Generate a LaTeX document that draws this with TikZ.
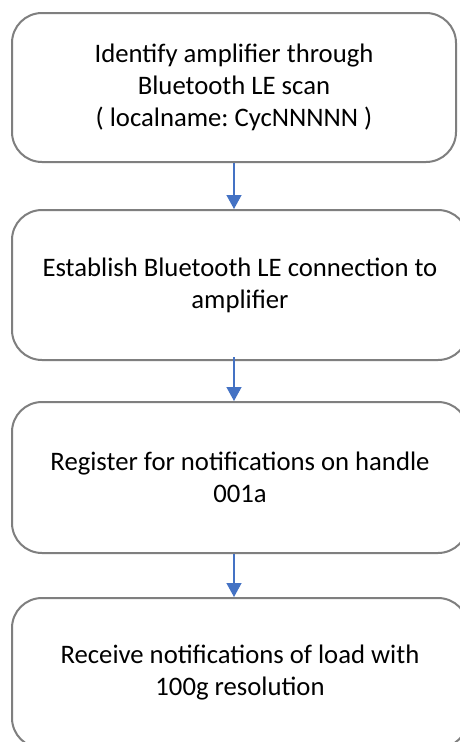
\documentclass[tikz,border=0pt]{standalone}
\usepackage{fontspec}
\setmainfont{Carlito}
\usetikzlibrary{arrows.meta,calc}
\definecolor{boxgrey}{HTML}{7F7F7F}
\definecolor{arrowblue}{HTML}{4472C4}
\frenchspacing
\tikzset{
  stepbox/.style={draw=boxgrey, line width=2pt, rounded corners=30pt, fill=white,
    align=center, inner sep=0pt, font=\fontsize{26.7}{32}\selectfont},
  flowarrow/.style={draw=arrowblue, line width=1.3pt, -{Triangle[width=15pt,length=14pt]}}
}
\begin{document}
\begin{tikzpicture}[x=1pt,y=-1pt]
\useasboundingbox (0,0) rectangle (460,742);
\fill[white] (0,0) rectangle (460,742);
\begin{scope}
\clip (0,0) rectangle (460,742);
\node[stepbox, minimum width=444pt, minimum height=149pt] (b1) at (234,87.5)
  {Identify amplifier through\\Bluetooth LE scan\\( localname: CycNNNNN )};
\node[stepbox, minimum width=456pt, minimum height=150pt] (b2) at (240,285)
  {Establish Bluetooth LE connection to\\amplifier};
\node[stepbox, minimum width=456pt, minimum height=151pt] (b3) at (240,477.5)
  {Register for notifications on handle\\001a};
\node[stepbox, minimum width=456pt, minimum height=150pt] (b4) at (240,673)
  {Receive notifications of load with\\100g resolution};
\coordinate (a2s) at ($(b1.south |- b2.south)+(0,-4)$);
\draw[flowarrow] (b1.south) -- (b1.south |- b2.north);
\draw[flowarrow] (a2s) -- (b1.south |- b3.north);
\draw[flowarrow] (b1.south |- b3.south) -- (b1.south |- b4.north);
\end{scope}
\end{tikzpicture}
\end{document}
